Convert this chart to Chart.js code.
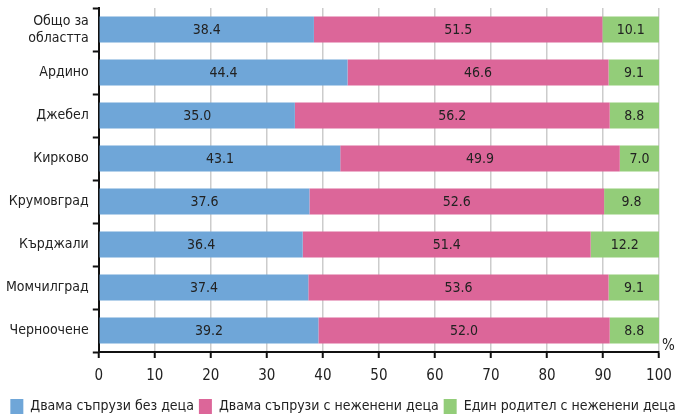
<!DOCTYPE html>
<html><head><meta charset="utf-8">
<script src="https://cdn.jsdelivr.net/npm/chart.js@4"></script>
<style>html,body{margin:0;padding:0;background:#fff}#w{width:684px;height:416px}</style>
</head><body><div id="w"><canvas id="c"></canvas></div>
<script>
const categories = [['Общо за','областта'],'Ардино','Джебел','Кирково','Крумовград','Кърджали','Момчилград','Черноочене'];
const seriesNames = ['Двама съпрузи без деца','Двама съпрузи с неженени деца','Един родител с неженени деца'];
const couplesNoChildren = [38.4,44.4,35.0,43.1,37.6,36.4,37.4,39.2];
const couplesWithChildren = [51.5,46.6,56.2,49.9,52.6,51.4,53.6,52.0];
const singleParent = [10.1,9.1,8.8,7.0,9.8,12.2,9.1,8.8];
const xTicks = [0,10,20,30,40,50,60,70,80,90,100];
const colors = ['#6fa6d8','#dc6699','#93cd79'];
const FONT = '"Liberation Sans Narrow","DejaVu Sans Condensed","Roboto Condensed",sans-serif';

const labelPlugin = {
  id:'vals',
  afterDatasetsDraw(chart){
    const ctx = chart.ctx;
    ctx.save();
    ctx.font = '14px ' + FONT;
    ctx.fillStyle = '#222';
    ctx.textAlign = 'center';
    ctx.textBaseline = 'middle';
    chart.data.datasets.forEach((ds,i)=>{
      chart.getDatasetMeta(i).data.forEach((bar,j)=>{
        const cx = (bar.x + bar.base)/2;
        ctx.fillText(ds.data[j].toFixed(1), cx, bar.y+1);
      });
    });
    const xs = chart.scales.x;
    ctx.textAlign = 'left';
    ctx.font = '15px ' + FONT;
    ctx.fillText('%', xs.right + 3, xs.top - 6);
    ctx.restore();
  }
};

new Chart(document.getElementById('c'), {
  type:'bar',
  data:{
    labels: categories,
    datasets:[
      {label:seriesNames[0], data:couplesNoChildren, backgroundColor:colors[0]},
      {label:seriesNames[1], data:couplesWithChildren, backgroundColor:colors[1]},
      {label:seriesNames[2], data:singleParent, backgroundColor:colors[2]}
    ]
  },
  options:{
    indexAxis:'y',
    responsive:true,
    maintainAspectRatio:false,
    animation:false,
    categoryPercentage:1,
    barPercentage:0.6,
    layout:{padding:{top:8,right:0,left:2,bottom:-8}},
    scales:{
      x:{
        stacked:true, min:0, max:100,
        afterBuildTicks(s){ s.ticks = xTicks.map(v=>({value:v})); },
        afterFit(s){ s.paddingRight = 25; },
        border:{color:'#111', width:2},
        grid:{color:'#cccccc', lineWidth:1.5, tickColor:'#111', tickLength:6, tickWidth:2},
        ticks:{color:'#222', font:{family:FONT, size:15}, padding:9, maxRotation:0}
      },
      y:{
        stacked:true,
        afterFit(s){ s.paddingTop = 0; s.paddingBottom = 0; },
        border:{color:'#111', width:2},
        grid:{display:true, drawOnChartArea:false, offset:true, tickColor:'#111', tickLength:6, tickWidth:2},
        ticks:{color:'#222', font:{family:FONT, size:14}, padding:4}
      }
    },
    plugins:{
      legend:{
        position:'bottom',
        labels:{boxWidth:13, boxHeight:15, color:'#222', font:{family:FONT, size:14, lineHeight:1}, padding:5}
      },
      tooltip:{enabled:false}
    }
  },
  plugins:[labelPlugin]
});
</script>
</body></html>
